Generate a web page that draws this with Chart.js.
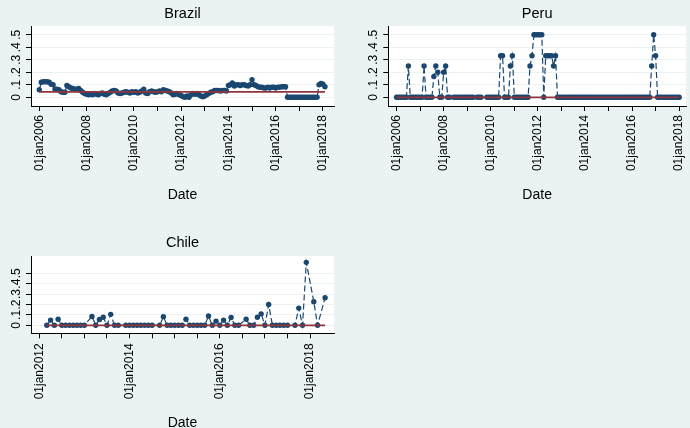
<!DOCTYPE html>
<html>
<head>
<meta charset="utf-8">
<script src="https://cdn.jsdelivr.net/npm/chart.js@4.4.1/dist/chart.umd.min.js"></script>
<style>
  html, body { margin: 0; padding: 0; background: #eaf2f3; width: 690px; height: 428px; overflow: hidden; }
  canvas { position: absolute; }
</style>
</head>
<body>
<canvas id="brazil" width="345" height="214" style="left:0;top:0"></canvas>
<canvas id="peru" width="345" height="214" style="left:345px;top:0"></canvas>
<canvas id="chile" width="345" height="200" style="left:0;top:228px"></canvas>
<script>
// Monthly series; each list starts at its [year, month] and runs one value per month.
// null = no observation for that month.
const brazilStart = [2006, 1];
const brazilValues = [
  .06, .12, .125, .125, .125, .12, .105, .10, .065, .065, .06, .045,   // 2006
  .04, .04, .095, .085, .075, .07, .065, .065, .07, .055, .04, .03,    // 2007
  .025, .02, .025, .02, .03, .025, .02, .03, .035, .025, .02, .03,     // 2008
  .04, .05, .055, .05, .035, .03, .035, .04, .045, .04, .035, .045,    // 2009
  .04, .045, .035, .04, .05, .065, .035, .03, .045, .05, .045, .04,    // 2010
  .045, .05, .045, .06, .055, .05, .045, .035, .02, .025, .03, .02,    // 2011
  .015, .005, 0, .01, 0, .02, .03, .025, .03, .02, .01, .005,          // 2012
  .01, .02, .03, .04, .045, .055, .055, .055, .05, .055, .055, .05,    // 2013
  .095, .10, .115, .09, .10, .10, .095, .10, .10, .095, .09, .10,      // 2014
  .14, .10, .095, .085, .08, .08, .075, .075, .08, .075, .08, .08,     // 2015
  .075, .08, .08, .085, .085, .085, 0, 0, 0, 0, 0, 0,                  // 2016
  0, 0, 0, 0, 0, 0, 0, 0, 0, 0, .10, .11,                              // 2017
  .105, .085                                                           // 2018
];
const brazilReference = 0.044;

const peruStart = [2006, 1];
const peruValues = [
  0, 0, 0, 0, 0, 0, .25, 0, 0, 0, 0, 0,                 // 2006
  0, 0, .25, 0, 0, 0, 0, .167, .25, .2, 0, 0,           // 2007
  .2, .25, 0, 0, null, 0, 0, 0, 0, 0, 0, 0,             // 2008
  0, 0, 0, 0, null, 0, 0, 0, null, null, 0, 0,          // 2009
  0, 0, 0, 0, 0, .333, .333, 0, 0, 0, .25, .333,        // 2010
  0, 0, 0, 0, 0, 0, 0, 0, .25, .333, .5, .5,            // 2011
  .5, .5, .5, 0, .333, .333, .333, .333, .25, .333, 0, 0, // 2012
  0, 0, 0, 0, 0, 0, 0, 0, 0, 0, 0, 0,                   // 2013
  0, 0, 0, 0, 0, 0, 0, 0, 0, 0, 0, 0,                   // 2014
  0, 0, 0, 0, 0, 0, 0, 0, 0, 0, 0, 0,                   // 2015
  0, 0, 0, 0, 0, 0, 0, 0, 0, 0, .25, .5,                // 2016
  .333, 0, 0, 0, 0, 0, 0, 0, 0, 0, 0, 0,                // 2017
  0                                                     // 2018
];
const peruReference = 0;

const chileStart = [2012, 3];
const chileValues = [
  0, .05, 0, .058, 0, 0, 0, 0, 0, 0,                    // 2012 (Mar-Dec)
  0, null, .085, 0, .055, .077, 0, .105, 0, 0, null, 0, // 2013
  0, 0, 0, 0, 0, 0, 0, null, 0, .083, 0, 0,             // 2014
  0, 0, 0, .058, 0, 0, 0, 0, 0, .09, 0, .04,            // 2015
  0, .05, 0, .075, 0, 0, null, .058, 0, 0, .077, .11,   // 2016
  0, .2, 0, 0, 0, 0, 0, null, 0, .165, 0, .605,         // 2017
  null, .227, 0, null, .265                             // 2018
];
const chileReference = 0;

// Axis ticks and their labels
const yTickValues = [0, 0.1, 0.2, 0.3, 0.4, 0.5];
const yTickLabels = ['0', '.1', '.2', '.3', '.4', '.5'];

const longTickValues = [2006, 2007, 2008, 2009, 2010, 2011, 2012, 2013, 2014, 2015, 2016, 2017, 2018];
const longLabelValues = [2006, 2008, 2010, 2012, 2014, 2016, 2018];
const longLabels = ['01jan2006', '01jan2008', '01jan2010', '01jan2012', '01jan2014', '01jan2016', '01jan2018'];

const shortTickValues = [2012, 2012.5, 2013, 2013.5, 2014, 2014.5, 2015, 2015.5, 2016, 2016.5, 2017, 2017.5, 2018];
const shortLabelValues = [2012, 2014, 2016, 2018];
const shortLabels = ['01jan2012', '01jan2014', '01jan2016', '01jan2018'];

const NAVY = '#1a476f';
const MAROON = '#90353b';
const GRID = '#eaf2f3';
const FONT = '"Liberation Sans", Arial, Helvetica, sans-serif';

function toPoints(start, values) {
  const [y0, m0] = start;
  const pts = [];
  values.forEach((v, i) => {
    if (v === null) return;
    pts.push({ x: y0 + (m0 - 1 + i) / 12, y: v });
  });
  return pts;
}

function panelText(cfg) {
  return {
    id: 'panelText',
    beforeDraw(chart) {
      const { ctx, chartArea: a } = chart;
      ctx.save();
      ctx.fillStyle = '#ffffff';
      ctx.fillRect(a.left, a.top, a.right - a.left, a.bottom - a.top);
      ctx.restore();
    },
    afterDraw(chart) {
      const { ctx, chartArea: a, scales } = chart;
      const x = scales.x, y = scales.y;
      const cx = (a.left + a.right) / 2;
      ctx.save();
      ctx.fillStyle = '#000';

      ctx.font = '14.5px ' + FONT;
      ctx.textAlign = 'center';
      ctx.textBaseline = 'alphabetic';
      ctx.fillText(cfg.title, cx, a.top - cfg.titleGap);

      ctx.font = '14px ' + FONT;
      ctx.fillText('Date', cx, a.bottom + cfg.dateGap);

      ctx.font = '12px ' + FONT;
      yTickValues.forEach((v, i) => {
        const py = y.getPixelForValue(v);
        ctx.save();
        ctx.translate(a.left - 11.5, py);
        ctx.rotate(-Math.PI / 2);
        ctx.textAlign = 'center';
        ctx.textBaseline = 'alphabetic';
        ctx.fillText(yTickLabels[i], 0, 0);
        ctx.restore();
      });

      cfg.labelValues.forEach((v, i) => {
        const px = x.getPixelForValue(v);
        ctx.save();
        ctx.translate(px, a.bottom + cfg.xLabelGap);
        ctx.rotate(-Math.PI / 2);
        ctx.textAlign = 'right';
        ctx.textBaseline = 'middle';
        ctx.fillText(cfg.labels[i], 0, 0);
        ctx.restore();
      });
      ctx.restore();
    }
  };
}

function drawPanel(id, cfg) {
  const pts = toPoints(cfg.start, cfg.values);
  const first = pts[0].x, last = pts[pts.length - 1].x;
  new Chart(document.getElementById(id), {
    type: 'line',
    data: {
      datasets: [
        {
          data: [{ x: first, y: cfg.reference }, { x: last, y: cfg.reference }],
          borderColor: MAROON, borderWidth: 1.7, pointRadius: 0, order: 0
        },
        {
          data: pts,
          borderColor: NAVY, borderWidth: 1.2, borderDash: [6, 3],
          pointRadius: 2.7, pointBackgroundColor: NAVY, pointBorderWidth: 0,
          tension: 0, order: 1
        }
      ]
    },
    options: {
      responsive: false,
      animation: false,
      events: [],
      layout: { padding: cfg.pad },
      plugins: { legend: { display: false }, tooltip: { enabled: false }, title: { display: false } },
      scales: {
        x: {
          type: 'linear', bounds: 'data', min: cfg.xMin, max: cfg.xMax,
          afterBuildTicks: s => { s.ticks = cfg.tickValues.map(v => ({ value: v })); },
          afterFit: s => { s.height = 10; },
          ticks: { display: false, autoSkip: false },
          grid: { display: true, drawOnChartArea: false, drawTicks: true, tickLength: 5, tickColor: '#000', tickWidth: 1 },
          border: { display: true, color: '#000', width: 1 }
        },
        y: {
          type: 'linear', bounds: 'data', min: cfg.yMin, max: cfg.yMax,
          afterBuildTicks: s => { s.ticks = yTickValues.map(v => ({ value: v })); },
          afterFit: s => { s.width = cfg.yWidth; },
          ticks: { display: false, autoSkip: false },
          grid: { display: true, color: GRID, lineWidth: 1, drawTicks: true, tickLength: 5, tickColor: '#000', tickWidth: 1 },
          border: { display: true, color: '#000', width: 1 }
        }
      }
    },
    plugins: [panelText(cfg)]
  });
}

drawPanel('brazil', {
  title: 'Brazil', start: brazilStart, values: brazilValues, reference: brazilReference,
  pad: { left: 0, right: 11, top: 26, bottom: 98 }, yWidth: 31,
  xMin: 2005.649, xMax: 2018.466, yMin: -0.0696, yMax: 0.5704,
  tickValues: longTickValues, labelValues: longLabelValues, labels: longLabels,
  titleGap: 7.7, xLabelGap: 9, dateGap: 93
});

drawPanel('peru', {
  title: 'Peru', start: peruStart, values: peruValues, reference: peruReference,
  pad: { left: 0, right: 0, top: 26, bottom: 98 }, yWidth: 43.3,
  xMin: 2005.648, xMax: 2018.29, yMin: -0.0696, yMax: 0.5704,
  tickValues: longTickValues, labelValues: longLabelValues, labels: longLabels,
  titleGap: 7.7, xLabelGap: 9, dateGap: 93
});

drawPanel('chile', {
  title: 'Chile', start: chileStart, values: chileValues, reference: chileReference,
  pad: { left: 0, right: 11, top: 28, bottom: 84.7 }, yWidth: 31,
  xMin: 2011.816, xMax: 2018.531, yMin: -0.077, yMax: 0.666,
  tickValues: shortTickValues, labelValues: shortLabelValues, labels: shortLabels,
  titleGap: 9.3, xLabelGap: 10, dateGap: 93.7
});
</script>
</body>
</html>
